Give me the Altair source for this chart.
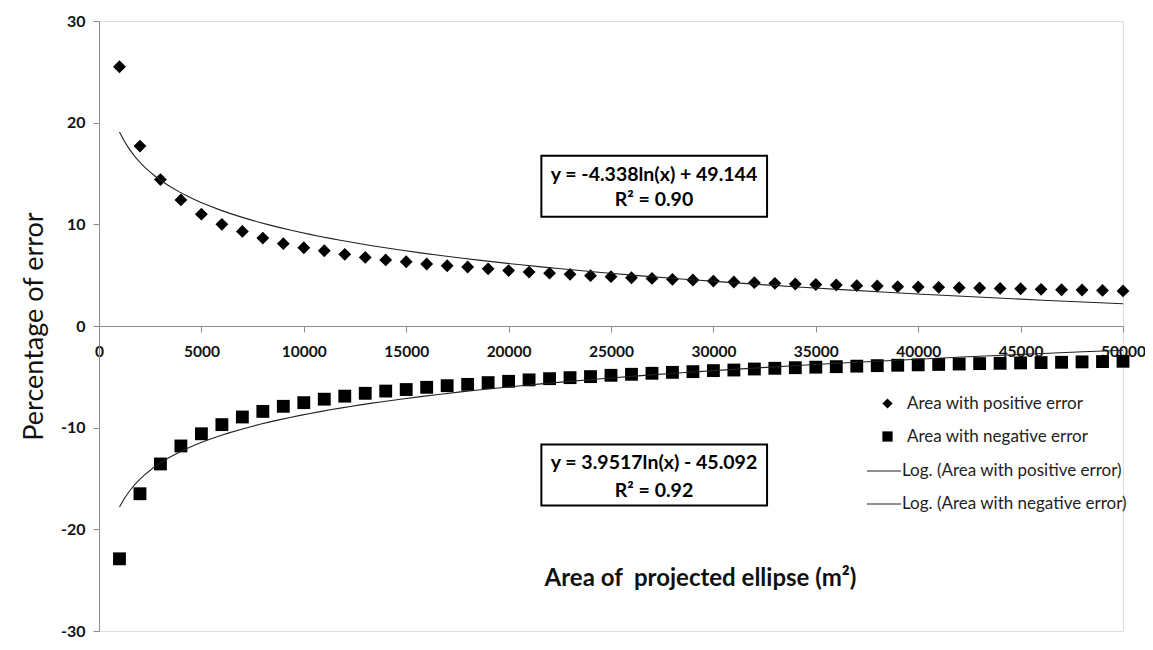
import altair as alt
import pandas as pd

# ---- data ----
area = [1000, 2000, 3000, 4000, 5000, 6000, 7000, 8000, 9000, 10000,
        11000, 12000, 13000, 14000, 15000, 16000, 17000, 18000, 19000, 20000,
        21000, 22000, 23000, 24000, 25000, 26000, 27000, 28000, 29000, 30000,
        31000, 32000, 33000, 34000, 35000, 36000, 37000, 38000, 39000, 40000,
        41000, 42000, 43000, 44000, 45000, 46000, 47000, 48000, 49000, 50000]

pos_err = [25.5, 17.7, 14.4, 12.4, 11.0, 10.0, 9.3, 8.65, 8.1, 7.7,
           7.4, 7.05, 6.75, 6.5, 6.32, 6.1, 5.93, 5.8, 5.62, 5.45,
           5.3, 5.2, 5.08, 4.95, 4.85, 4.75, 4.68, 4.59, 4.52, 4.42,
           4.33, 4.26, 4.2, 4.13, 4.08, 4.03, 3.97, 3.93, 3.87, 3.84,
           3.8, 3.77, 3.74, 3.7, 3.66, 3.61, 3.57, 3.54, 3.5, 3.45]

neg_err = [-22.9, -16.5, -13.57, -11.8, -10.6, -9.7, -8.95, -8.4, -7.9, -7.54,
           -7.2, -6.9, -6.62, -6.4, -6.25, -6.03, -5.87, -5.74, -5.57, -5.44,
           -5.3, -5.18, -5.08, -4.98, -4.85, -4.75, -4.65, -4.56, -4.49, -4.39,
           -4.33, -4.23, -4.16, -4.1, -4.05, -4.0, -3.95, -3.9, -3.86, -3.82,
           -3.78, -3.74, -3.7, -3.67, -3.63, -3.6, -3.57, -3.53, -3.5, -3.47]

series_names = ["Area with positive error", "Area with negative error"]
trend_names = ["Log. (Area with positive error)", "Log. (Area with negative error)"]

x_ticks = [0, 5000, 10000, 15000, 20000, 25000, 30000, 35000, 40000, 45000, 50000]
y_ticks = [-30, -20, -10, 0, 10, 20, 30]

eq_lines = ["y = -4.338ln(x) + 49.144", "R² = 0.90",
            "y = 3.9517ln(x) - 45.092", "R² = 0.92"]

# annotation placement (data units)
eq_x = 27100
eq_y = [14.85, 12.35, -13.5, -16.2]
box_x1, box_x2 = 21600, 32620
box_y1 = [16.75, -11.65]
box_y2 = [10.75, -17.65]

# ---- tables ----
df = pd.DataFrame({
    "area": area + area,
    "err": pos_err + neg_err,
    "series": [series_names[0]] * len(area) + [series_names[1]] * len(area),
})
eq_df = pd.DataFrame({"x": [eq_x] * 4, "y": eq_y, "label": eq_lines})
box_df = pd.DataFrame({"x1": [box_x1] * 2, "x2": [box_x2] * 2,
                       "y1": box_y1, "y2": box_y2})

FONT = "Lato"
AXIS_GRAY = "#8c8c8c"
LEG_FS = 17

x_enc = alt.X("area:Q",
              scale=alt.Scale(domain=[0, 50000], nice=False, zero=False),
              axis=alt.Axis(values=x_ticks, labelExpr="'' + datum.value",
                            offset=-305, grid=False,
                            title="Area of \u00a0projected ellipse (m²)",
                            titleX=601, titleY=252, titleBaseline="middle",
                            titleFontSize=24, titleFontWeight="bold",
                            titleFont=FONT, titleColor="#111",
                            labelFont=FONT, labelFontSize=15.5, labelFontWeight="bold",
                            labelColor="#111", labelPadding=12,
                            tickSize=6, tickColor=AXIS_GRAY, domainColor=AXIS_GRAY,
                            labelOverlap=False, labelFlush=False))
y_enc = alt.Y("err:Q",
              scale=alt.Scale(domain=[-30, 30], nice=False),
              axis=alt.Axis(values=y_ticks, labelExpr="'' + datum.value", grid=False,
                            title="Percentage of error",
                            titleX=-65, titleY=305, titleAngle=270,
                            titleAlign="center", titleBaseline="middle",
                            titleFontSize=27, titleFontWeight="normal",
                            titleFont=FONT, titleColor="#111",
                            labelFont=FONT, labelFontSize=16, labelFontWeight="bold",
                            labelColor="#111", labelPadding=8,
                            tickSize=6, tickColor=AXIS_GRAY, domainColor=AXIS_GRAY))

points = alt.Chart(df).mark_point(filled=True, opacity=1, size=165, color="black").encode(
    x=x_enc, y=y_enc,
    shape=alt.Shape("series:N",
                    scale=alt.Scale(domain=series_names, range=["diamond", "square"]),
                    legend=alt.Legend(title=None, orient="none", legendX=780, legendY=374,
                                      padding=0, symbolSize=105,
                                      labelFont=FONT, labelFontSize=LEG_FS, labelColor="#222",
                                      labelOffset=11, rowPadding=15, labelLimit=400)),
)

trend = alt.Chart(df).transform_regression(
    "area", "err", method="log", groupby=["series"]
).transform_calculate(
    trend="'Log. (' + datum.series + ')'"
).mark_line(strokeWidth=1.1).encode(
    x="area:Q", y="err:Q",
    color=alt.Color("trend:N",
                    scale=alt.Scale(domain=trend_names, range=["#222222", "#222222"]),
                    legend=alt.Legend(title=None, orient="none", legendX=767, legendY=432,
                                      padding=0, symbolType="stroke", symbolSize=1156,
                                      symbolStrokeWidth=1.1,
                                      labelFont=FONT, labelFontSize=LEG_FS, labelColor="#222",
                                      labelOffset=0, rowPadding=7, labelLimit=400)),
)

boxes = alt.Chart(box_df).mark_rect(fill="white", stroke="black", strokeWidth=2).encode(
    x="x1:Q", x2="x2", y="y1:Q", y2="y2"
)

eqs = alt.Chart(eq_df).mark_text(font=FONT, fontSize=19.5, fontWeight="bold",
                                 color="black", baseline="middle", align="center").encode(
    x="x:Q", y="y:Q", text="label:N"
)

chart = alt.layer(points, trend, boxes, eqs).resolve_legend(
    shape="independent", color="independent"
).properties(
    width=1024, height=610,
    padding={"left": 91, "top": 13, "right": 22, "bottom": 11},
    autosize=alt.AutoSizeParams(type="none"),
).configure_view(stroke=None).configure(background="white")

chart.save("out.html", embed_options={"renderer": "svg", "actions": False})
